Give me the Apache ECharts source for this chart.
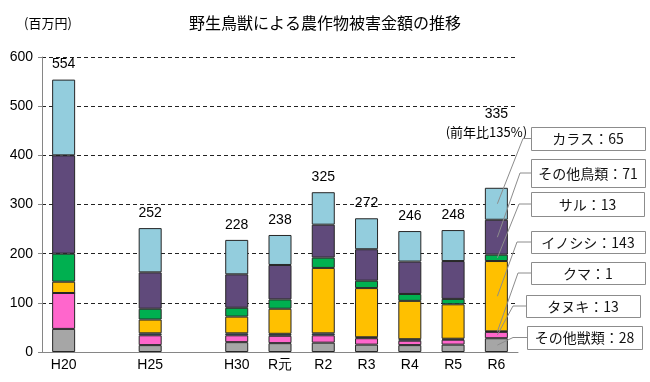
<!DOCTYPE html>
<html>
<head>
<meta charset="utf-8">
<script src="https://cdn.jsdelivr.net/npm/echarts@6/dist/echarts.min.js"></script>
<style>
html,body{margin:0;padding:0;background:#fff;}
#chart{width:650px;height:382px;}
</style>
</head>
<body>
<div id="chart"></div>
<script>
// ---- data (bottom of stack first) ----
const categories   = ['H20', '', 'H25', '', 'H30', 'R元', 'R2', 'R3', 'R4', 'R5', 'R6'];
const otherBeasts  = [47, null, 14, null, 20, 18, 19, 15, 14, 15, 28];   // その他獣類
const tanuki       = [73, null, 20, null, 14, 15, 15, 13, 9, 10, 13];    // タヌキ
const bear         = [0, null, 4, null, 4, 4, 4, 2, 3, 2, 1];            // クマ
const boar         = [23, null, 28, null, 34, 51, 133, 100, 78, 70, 143];// イノシシ
const monkey       = [57, null, 22, null, 18, 19, 21, 15, 14, 11, 13];  // サル
const otherBirds   = [200, null, 74, null, 68, 70, 67, 64, 66, 77, 71];  // その他鳥類
const crow         = [154, null, 90, null, 70, 61, 66, 63, 62, 63, 65];  // カラス
const totals       = [554, null, 252, null, 228, 238, 325, 272, 246, 248, 335];
const lastNote     = '(前年比135%)';
const seriesNames  = ['その他獣類', 'タヌキ', 'クマ', 'イノシシ', 'サル', 'その他鳥類', 'カラス'];
const seriesData   = [otherBeasts, tanuki, bear, boar, monkey, otherBirds, crow];
const colors       = ['#A6A6A6', '#FF66CC', '#3F6FB5', '#FFC000', '#00B050', '#604A7B', '#93CDDD'];
const unitLabel    = '(百万円)';
const titleText    = '野生鳥獣による農作物被害金額の推移';

const NUM_FONT = '"Liberation Sans Narrow", "Arial Narrow", "Liberation Sans", Arial, sans-serif';
const JP_FONT = '"Noto Sans CJK JP", "Noto Sans", sans-serif';
const lastIdx = categories.length - 1;

const chart = echarts.init(document.getElementById('chart'), null, {renderer: 'canvas'});

const series = seriesData.map((arr, si) => {
  const isTop = si === seriesData.length - 1;
  const s = {
    name: seriesNames[si],
    type: 'bar',
    stack: 'total',
    barWidth: 23,
    itemStyle: {color: colors[si], borderColor: '#262626', borderWidth: 1},
    data: arr.map((v, i) => (isTop && i === lastIdx) ? {value: v, label: {distance: 47}} : v),
    animation: false
  };
  if (isTop) {
    s.label = {
      show: true,
      position: 'top',
      distance: 6,
      formatter: p => {
        const t = totals[p.dataIndex];
        if (t == null) return '';
        if (p.dataIndex === lastIdx) return '{a|' + t + '}\n{b|' + lastNote + '}';
        return '{a|' + t + '}';
      },
      rich: {
        a: {fontSize: 14, fontFamily: NUM_FONT, color: '#000', lineHeight: 18},
        b: {fontSize: 13, fontFamily: JP_FONT, color: '#000', lineHeight: 18, padding: [0, 20, 0, 0]}
      }
    };
  }
  return s;
});

chart.setOption({
  animation: false,
  backgroundColor: '#fff',
  title: [
    {text: titleText, left: 'center', top: 10,
     textStyle: {fontSize: 16, fontWeight: 'normal', color: '#000', fontFamily: JP_FONT}},
    {text: unitLabel, left: 19, top: 12,
     textStyle: {fontSize: 13, fontWeight: 'normal', color: '#000', fontFamily: JP_FONT}}
  ],
  grid: {left: 42, right: 132, top: 57, bottom: 30, containLabel: false},
  xAxis: {
    type: 'category',
    data: categories,
    axisLine: {show: true, lineStyle: {color: '#868686', width: 1}},
    axisTick: {show: false},
    axisLabel: {fontSize: 14, fontFamily: NUM_FONT, color: '#000', margin: 6, interval: 0}
  },
  yAxis: {
    type: 'value',
    min: 0, max: 600, interval: 100,
    axisLine: {show: true, lineStyle: {color: '#868686', width: 1}},
    axisTick: {show: true, inside: false, length: 4, lineStyle: {color: '#868686'}},
    axisLabel: {fontSize: 14, fontFamily: NUM_FONT, color: '#000', margin: 9},
    splitLine: {show: true, lineStyle: {color: '#222', type: [4, 3], width: 1}}
  },
  series: series
});

// ---- callout boxes for the last bar ----
const boxes = [ // top to bottom: カラス .. その他獣類 (layout only)
  {x: 531, y: 127, w: 114, h: 23, ex: 523},
  {x: 531, y: 159, w: 114, h: 28, ex: 520},
  {x: 531, y: 192, w: 113, h: 24, ex: 519},
  {x: 531, y: 231, w: 114, h: 22, ex: 517},
  {x: 531, y: 262, w: 114, h: 22, ex: 518},
  {x: 526, y: 295, w: 114, h: 22, ex: 513},
  {x: 527, y: 326, w: 115, h: 23, ex: 513}
];
const elements = [];
let cum = 0;
const mids = seriesData.map(arr => { const v = arr[lastIdx]; const m = cum + v / 2; cum += v; return m; });
for (let k = 0; k < boxes.length; k++) {
  const si = seriesData.length - 1 - k;
  const b = boxes[k];
  const p = chart.convertToPixel({gridIndex: 0}, [lastIdx, mids[si]]);
  const cy = b.y + b.h / 2;
  elements.push({
    type: 'polyline', silent: true, z: 50,
    shape: {points: [[p[0] + 1, p[1]], [b.ex, cy], [b.x, cy]]},
    style: {stroke: '#8c8c8c', lineWidth: 1, fill: null}
  });
  elements.push({
    type: 'rect', silent: true, z: 50,
    shape: {x: b.x + 0.5, y: b.y + 0.5, width: b.w, height: b.h},
    style: {fill: '#fff', stroke: '#8c8c8c', lineWidth: 1}
  });
  elements.push({
    type: 'text', silent: true, z: 51,
    x: b.x + b.w / 2, y: cy + 0.5,
    style: {text: seriesNames[si] + '：' + seriesData[si][lastIdx], fill: '#111',
            font: '14px ' + JP_FONT, align: 'center', verticalAlign: 'middle'}
  });
}
chart.setOption({graphic: {elements: elements}});
</script>
</body>
</html>
